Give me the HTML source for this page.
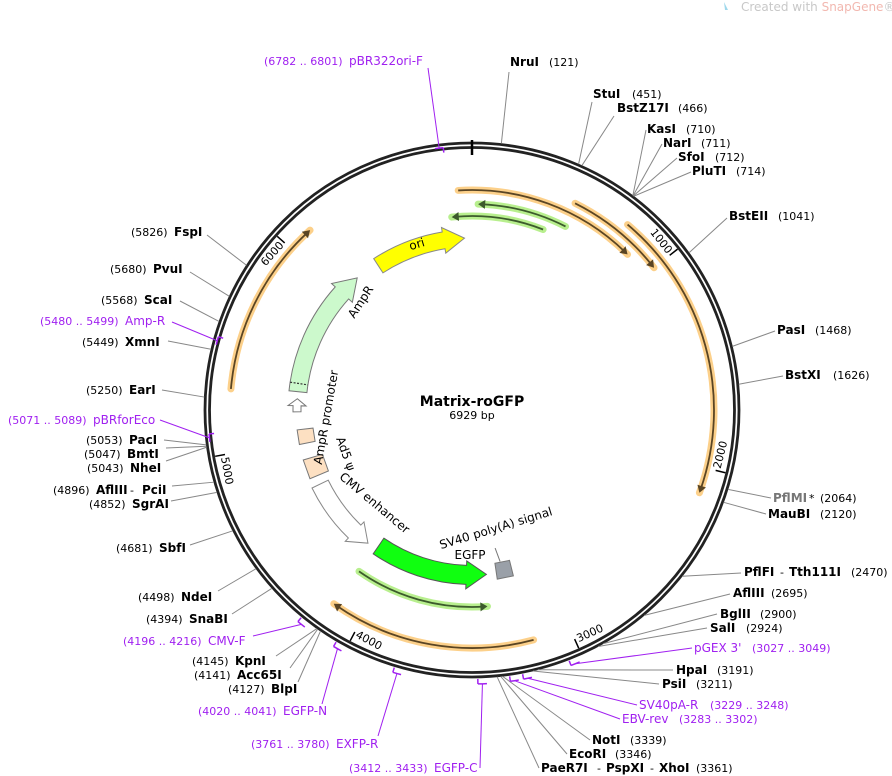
<!DOCTYPE html>
<html><head><meta charset="utf-8"><style>
html,body{margin:0;padding:0;background:#fff;}
svg{display:block;font-family:"DejaVu Sans","Liberation Sans",sans-serif;}
.b{font-weight:bold;font-size:12px;fill:#000}
.n{font-size:11px;fill:#000}
.p{font-size:12px;fill:#a020f0}
.pn{font-size:11px;fill:#a020f0}
</style></head><body>
<svg id="s" width="892" height="776" viewBox="0 0 892 776" xmlns="http://www.w3.org/2000/svg">
<text x="741" y="11" style="font-size:12px;fill:#c8c8c8">Created with <tspan fill="#f2b8b0">SnapGene</tspan>®</text>
<path d="M724 2 l4 8 l-3 0 z" fill="#9fd8ec"/>
<g id="g"></g>
<text x="472" y="406" text-anchor="middle" style="font-weight:bold;font-size:14px">Matrix-roGFP</text>
<text x="472" y="419" text-anchor="middle" style="font-size:11px">6929 bp</text>
<text transform="translate(418,248) rotate(-17)" text-anchor="middle" style="font-size:12px">ori</text>
<text transform="translate(364,304) rotate(-57)" text-anchor="middle" style="font-size:12px">AmpR</text>
<text transform="translate(330,418) rotate(-80)" text-anchor="middle" style="font-size:12px">AmpR promoter</text>
<text transform="translate(342,455) rotate(70)" text-anchor="middle" style="font-size:12px">Ad5 ψ</text>
<text transform="translate(372,506) rotate(40)" text-anchor="middle" style="font-size:12px">CMV enhancer</text>
<text transform="translate(497,532) rotate(-17)" text-anchor="middle" style="font-size:12px">SV40 poly(A) signal</text>
<text x="470" y="559" text-anchor="middle" style="font-size:12px">EGFP</text>
</svg>
<script>
var cx=472,cy=410,NS="http://www.w3.org/2000/svg",g=document.getElementById("g");
function P(r,a){a=a*Math.PI/180;return [cx+r*Math.sin(a),cy-r*Math.cos(a)];}
function el(t,at){var e=document.createElementNS(NS,t);for(var k in at)e.setAttribute(k,at[k]);g.appendChild(e);return e;}
function arc(r,a1,a2){var p=P(r,a1),q=P(r,a2);return "M"+p[0]+" "+p[1]+"A"+r+" "+r+" 0 "+(Math.abs(a2-a1)>180?1:0)+" "+(a2>a1?1:0)+" "+q[0]+" "+q[1];}
function ang(pos){return pos/6929*360;}
function thin(r,a1,a2,glow,dark){
 el("path",{d:arc(r,a1,a2),stroke:glow,"stroke-width":7,fill:"none","stroke-linecap":"round"});
 var s=a2>a1?1:-1,hd=3.2/r*180/Math.PI*2.2;
 el("path",{d:arc(r,a1,a2-s*hd*0.5),stroke:dark,"stroke-width":1.8,fill:"none"});
 var t=P(r,a2),b1=P(r+4.5,a2-s*hd),b2=P(r-4.5,a2-s*hd);
 el("path",{d:"M"+t+"L"+b1+"L"+b2+"Z",fill:dark});
}
var O="#fcd08a",OD="#5a4524",G="#b8ef8e",GD="#3c5a2c";
thin(220,-3.6,45,O,OD);
thin(231,26.5,52,O,OD);
thin(242,40,110,O,OD);
thin(238,165,215.5,O,OD);
thin(242,-85,-42,O,OD);
thin(206,27,1.7,G,GD);
thin(194,21.5,-6,G,GD);
thin(197,215,175.5,G,GD);
el("circle",{cx:cx,cy:cy,r:267,fill:"none",stroke:"#222","stroke-width":2.8});
el("circle",{cx:cx,cy:cy,r:262.5,fill:"none",stroke:"#222","stroke-width":2.8});
el("line",{x1:472,y1:140,x2:472,y2:155,stroke:"#000","stroke-width":2.5});
[1000,2000,3000,4000,5000,6000].forEach(function(v){
 var a=ang(v),p=P(261,a),q=P(251,a);
 el("line",{x1:p[0],y1:p[1],x2:q[0],y2:q[1],stroke:"#000","stroke-width":1.5});
 var c=P(253,a-3.7),rot=(a>90&&a<270)?a-180:(a>180?a-360:a);
 var t=el("text",{transform:"translate("+c[0]+","+c[1]+") rotate("+rot+")","text-anchor":"middle","dominant-baseline":"middle",style:"font-size:11px"});t.textContent=v;
});
function feat(r,a1,a2,w,hw,hd,fill,stroke){
 var s=a2>a1?1:-1,ab=a2-s*hd;
 var o1=P(r+w/2,a1),i1=P(r-w/2,a1),ho=P(r+hw/2,ab),hi=P(r-hw/2,ab),ob=P(r+w/2,ab),ib=P(r-w/2,ab),t=P(r,a2);
 var d="M"+i1+"L"+o1+"A"+(r+w/2)+" "+(r+w/2)+" 0 0 "+(s>0?1:0)+" "+ob+"L"+ho+"L"+t+"L"+hi+"L"+ib+"A"+(r-w/2)+" "+(r-w/2)+" 0 0 "+(s>0?0:1)+" "+i1+"Z";
 el("path",{d:d,fill:fill,stroke:stroke,"stroke-width":1});
}
function box(r,a1,a2,w,fill){
 var a=P(r+w/2,a1),b=P(r+w/2,a2),c=P(r-w/2,a2),d=P(r-w/2,a1);
 el("path",{d:"M"+a+"L"+b+"L"+c+"L"+d+"Z",fill:fill,stroke:"#777","stroke-width":1});
}
feat(172,-33,-2.5,17,26,7,"#ffff00","#888");
feat(175,-84,-41,18,28,7,"#ccf9cc","#777");
var d1=P(184,-81.3),d2=P(166,-81.3);el("line",{x1:d1[0],y1:d1[1],x2:d2[0],y2:d2[1],stroke:"#333","stroke-dasharray":"2,1.5","stroke-width":1.2});
feat(175,-90.6,-86.3,8,18,2.3,"#fff","#777");
box(168,258.7,263.5,16,"#fde0c2");
box(166,247,253.5,20,"#fde0c2");
feat(169,244,218,18,27,6,"#fff","#888");
feat(165,214.5,175,19,28,7,"#10ff10","#555");
box(163,166,171.5,16,"#9aa0a8");
(function(){var a=P(154,169.5),b=P(140,170.5);el("line",{x1:a[0],y1:a[1],x2:b[0],y2:b[1],stroke:"#777"});})();
var L=[
 [121,509,72,[["b",510,66,"NruI"],["n",549,66,"(121)"]]],
 [451,592,102,[["b",593,98,"StuI"],["n",632,98,"(451)"]]],
 [466,614,116,[["b",617,112,"BstZ17I"],["n",678,112,"(466)"]]],
 [710,646,130,[["b",647,133,"KasI"],["n",686,133,"(710)"]]],
 [711,662,144,[["b",663,147,"NarI"],["n",701,147,"(711)"]]],
 [712,677,158,[["b",678,161,"SfoI"],["n",715,161,"(712)"]]],
 [714,691,172,[["b",692,175,"PluTI"],["n",736,175,"(714)"]]],
 [1041,727,218,[["b",729,220,"BstEII"],["n",778,220,"(1041)"]]],
 [1468,775,331,[["b",777,334,"PasI"],["n",815,334,"(1468)"]]],
 [1626,783,376,[["b",785,379,"BstXI"],["n",833,379,"(1626)"]]],
 [2064,771,498,[["g",773,502,"PflMI"],["n",809,502,"*"],["n",820,502,"(2064)"]]],
 [2120,766,514,[["b",768,518,"MauBI"],["n",820,518,"(2120)"]]],
 [2470,741,573,[["b",744,576,"PflFI"],["n",780,576,"-"],["b",789,576,"Tth111I"],["n",851,576,"(2470)"]]],
 [2695,730,594,[["b",733,597,"AflIII"],["n",771,597,"(2695)"]]],
 [2900,717,614,[["b",720,618,"BglII"],["n",760,618,"(2900)"]]],
 [2924,707,628,[["b",710,632,"SalI"],["n",746,632,"(2924)"]]],
 [3191,673,670,[["b",676,674,"HpaI"],["n",717,674,"(3191)"]]],
 [3211,659,684,[["b",662,688,"PsiI"],["n",696,688,"(3211)"]]],
 [3339,590,740,[["b",592,744,"NotI"],["n",630,744,"(3339)"]]],
 [3346,567,754,[["b",569,758,"EcoRI"],["n",615,758,"(3346)"]]],
 [3361,539,768,[["b",541,772,"PaeR7I"],["n",597,772,"-"],["b",606,772,"PspXI"],["n",650,772,"-"],["b",659,772,"XhoI"],["n",696,772,"(3361)"]]],
 [4127,298,682,[["n",228,693,"(4127)"],["b",271,693,"BlpI"]]],
 [4141,290,668,[["n",194,679,"(4141)"],["b",237,679,"Acc65I"]]],
 [4145,276,656,[["n",192,665,"(4145)"],["b",235,665,"KpnI"]]],
 [4394,232,614,[["n",146,623,"(4394)"],["b",189,623,"SnaBI"]]],
 [4498,218,591,[["n",138,601,"(4498)"],["b",181,601,"NdeI"]]],
 [4681,190,545,[["n",116,552,"(4681)"],["b",159,552,"SbfI"]]],
 [4852,171,501,[["n",89,508,"(4852)"],["b",132,508,"SgrAI"]]],
 [4896,172,486,[["n",53,494,"(4896)"],["b",96,494,"AflIII"],["n",130,494,"-"],["b",142,494,"PciI"]]],
 [5043,166,461,[["n",87,472,"(5043)"],["b",130,472,"NheI"]]],
 [5047,166,448,[["n",84,458,"(5047)"],["b",127,458,"BmtI"]]],
 [5053,164,440,[["n",86,444,"(5053)"],["b",129,444,"PacI"]]],
 [5250,162,390,[["n",86,394,"(5250)"],["b",129,394,"EarI"]]],
 [5449,168,341,[["n",82,346,"(5449)"],["b",125,346,"XmnI"]]],
 [5568,180,301,[["n",101,304,"(5568)"],["b",144,304,"ScaI"]]],
 [5680,190,272,[["n",110,273,"(5680)"],["b",153,273,"PvuI"]]],
 [5826,207,235,[["n",131,236,"(5826)"],["b",174,236,"FspI"]]]
];
var PR=[
 [3027,3049,692,648,[["p",694,652,"pGEX 3'"],["pn",752,652,"(3027 .. 3049)"]]],
 [3229,3248,637,705,[["p",639,709,"SV40pA-R"],["pn",710,709,"(3229 .. 3248)"]]],
 [3283,3302,620,719,[["p",622,723,"EBV-rev"],["pn",679,723,"(3283 .. 3302)"]]],
 [3412,3433,480,768,[["pn",349,772,"(3412 .. 3433)"],["p",434,772,"EGFP-C"]]],
 [3761,3780,378,736,[["pn",251,748,"(3761 .. 3780)"],["p",336,748,"EXFP-R"]]],
 [4020,4041,322,704,[["pn",198,715,"(4020 .. 4041)"],["p",283,715,"EGFP-N"]]],
 [4196,4216,253,636,[["pn",123,645,"(4196 .. 4216)"],["p",208,645,"CMV-F"]]],
 [5071,5089,160,420,[["pn",8,424,"(5071 .. 5089)"],["p",93,424,"pBRforEco"]]],
 [5480,5499,172,322,[["pn",40,325,"(5480 .. 5499)"],["p",125,325,"Amp-R"]]],
 [6782,6801,428,68,[["pn",264,65,"(6782 .. 6801)"],["p",349,65,"pBR322ori-F"]]]
];
function texts(arr){arr.forEach(function(t){var c=t[0],e;
 if(c=="g"){e=el("text",{x:t[1],y:t[2],class:"b",style:"fill:#777"});}else e=el("text",{x:t[1],y:t[2],class:c});
 e.textContent=t[3];});}
L.forEach(function(l){var a=ang(l[0]),p=P(268,a);
 el("line",{x1:p[0],y1:p[1],x2:l[1],y2:l[2],stroke:"#888","stroke-width":1});texts(l[3]);});
PR.forEach(function(l){var a1=ang(l[0]),a2=ang(l[1]),am=(a1+a2)/2,r=272;
 if(am>180&&am<360&&l[0]>5000)r=262;
 var p=P(r+2,am);
 el("line",{x1:p[0],y1:p[1],x2:l[2],y2:l[3],stroke:"#a020f0","stroke-width":1});
 el("path",{d:arc(r+2,a1-0.4,a2+0.4),stroke:"#a020f0","stroke-width":1.5,fill:"none"});
 var e=P(r+2,a2+0.4),f=P(r-3,a2+0.4);
 el("line",{x1:e[0],y1:e[1],x2:f[0],y2:f[1],stroke:"#a020f0","stroke-width":1.5});
 texts(l[4]);});
</script>
</body></html>
